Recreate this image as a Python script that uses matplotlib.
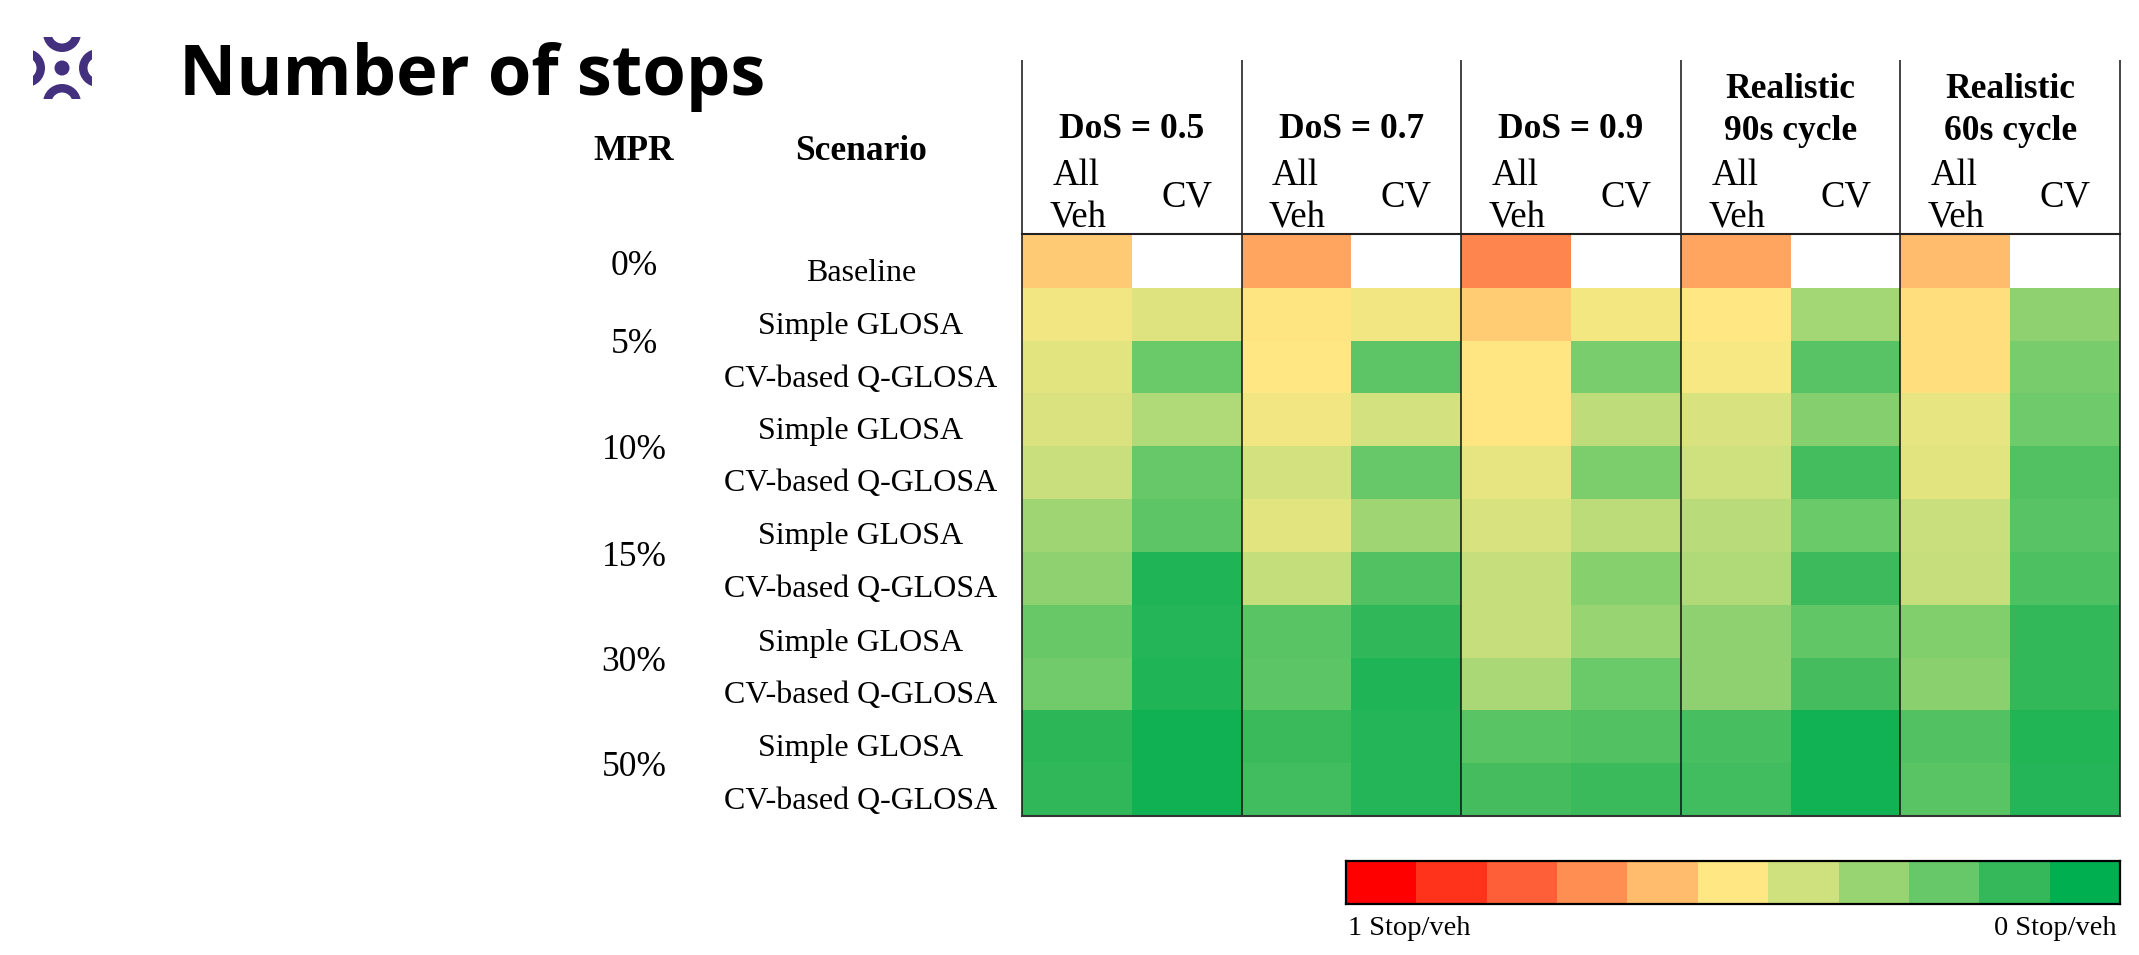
import matplotlib; matplotlib.use("Agg")
import matplotlib.pyplot as plt
import numpy as np
from matplotlib.colors import LinearSegmentedColormap
from matplotlib.patches import Circle, Rectangle, Wedge

W, H = 2139, 955
SERIF = "Liberation Serif"
PURPLE = "#43307f"

# legend steps, 1 stop/veh down to 0 stop/veh
legend_vals = [1.0, 0.9, 0.8, 0.7, 0.6, 0.5, 0.4, 0.3, 0.2, 0.1, 0.0]
legend_cols = ["#FF0000", "#FF331C", "#FF5F38", "#FF8F54", "#FFBC6C", "#FFE984",
               "#CFE07E", "#9AD472", "#66C868", "#35B85A", "#00AF50"]

groups = ["DoS = 0.5", "DoS = 0.7", "DoS = 0.9", "Realistic\n90s cycle", "Realistic\n60s cycle"]
mpr = ["0%", "5%", "10%", "15%", "30%", "50%"]
scenarios = ["Baseline"] + ["Simple GLOSA", "CV-based Q-GLOSA"] * 5

# stops per vehicle, All Veh / CV for each of the 5 groups
nan = np.nan
stops = np.array([
    [.57, nan, .65, nan, .72, nan, .65, nan, .60, nan],
    [.47, .43, .51, .47, .565, .475, .50, .32, .525, .28],
    [.44, .21, .50, .185, .505, .24, .485, .17, .525, .235],
    [.425, .34, .47, .41, .505, .37, .42, .26, .45, .215],
    [.39, .20, .41, .20, .45, .245, .40, .13, .44, .16],
    [.31, .185, .44, .31, .42, .365, .36, .21, .39, .17],
    [.28, .06, .38, .16, .385, .265, .34, .115, .385, .15],
    [.205, .07, .175, .09, .385, .30, .28, .19, .25, .095],
    [.225, .06, .18, .06, .33, .21, .28, .135, .27, .095],
    [.085, .03, .11, .07, .175, .16, .14, .035, .16, .065],
    [.09, .03, .125, .07, .135, .11, .125, .035, .175, .07],
])

cmap = LinearSegmentedColormap.from_list("stops", legend_cols[::-1])
cmap.set_bad("white")

fig = plt.figure(figsize=(W / 100, H / 100), dpi=100, facecolor="white")

def px_axes(x0, y0, x1, y1):
    return fig.add_axes([x0 / W, 1 - y1 / H, (x1 - x0) / W, (y1 - y0) / H])

# heatmap
TX0, TX1, TY0, TY1, TOP = 1022, 2120, 235, 816, 60
ax = px_axes(TX0, TY0, TX1, TY1)
ax.pcolormesh(np.ma.masked_invalid(stops), cmap=cmap, vmin=0, vmax=1)
ax.set_ylim(len(stops), 0)
ax.axis("off")

# colour legend
cax = px_axes(1346, 861, 2120, 904)
cax.pcolormesh([legend_vals], cmap=cmap, vmin=0, vmax=1)
cax.set_xticks([]); cax.set_yticks([])
for sp in cax.spines.values():
    sp.set_linewidth(1.6); sp.set_color("black")

# overlay in pixel coordinates for rules, text and logo
ov = fig.add_axes([0, 0, 1, 1], zorder=5)
ov.set_xlim(0, W); ov.set_ylim(H, 0); ov.axis("off"); ov.patch.set_alpha(0)

def label(x, y, s, size=25.5, **kw):
    kw.setdefault("ha", "center")
    ov.text(x, y + 3, s, fontsize=size, va="center", family=SERIF, color="black", **kw)

col_w = (TX1 - TX0) / 10
for i in range(6):
    ov.plot([TX0 + 2 * i * col_w] * 2, [TOP, TY1], color="#111111", lw=1.1, solid_capstyle="butt")
ov.plot([TX0, TX1], [234, 234], color="#222222", lw=1.5)
ov.plot([TX0, TX1], [816, 816], color="#333333", lw=1.5)

for i, g in enumerate(groups):
    xc = TX0 + (2 * i + 1) * col_w
    if "\n" in g:
        a, b = g.split("\n")
        label(xc, 87, a, fontweight="bold")
        label(xc, 129, b, fontweight="bold")
    else:
        label(xc, 127, g, fontweight="bold")
    label(xc - col_w + 54, 173, "All", size=26.5)
    label(xc - col_w + 56, 215, "Veh", size=26.5)
    label(xc + 55, 194, "CV", size=26.5)

label(634, 149, "MPR", fontweight="bold")
label(861, 149, "Scenario", fontweight="bold")
for y, m in zip([263, 341, 447, 554, 659, 764], mpr):
    label(634, y, m)
for y, s in zip([270, 323, 376, 428, 480, 533, 586, 640, 692, 745, 798], scenarios):
    label(861, y, s, size=23)

label(1348, 925, "1 Stop/veh", size=20.5, ha="left")
label(2117, 925, "0 Stop/veh", size=20.5, ha="right")

ov.text(179, 77, "Number of stops", fontsize=50.7, fontweight="bold", family="Open Sans",
        va="center", ha="left", color="black")

# logo
ov.add_patch(Circle((62, 68), 7.5, fc=PURPLE, ec="none"))
arcs = [((62, 33), 0, 180, (40, 37, 44, 20)), ((62, 103), 180, 360, (40, 79, 44, 20)),
        ((26, 68), 270, 450, (33, 45, 20, 46)), ((98, 68), 90, 270, (72, 45, 20, 46))]
for c, t0, t1, (rx, ry, rw, rh) in arcs:
    w = Wedge(c, 19, t0, t1, width=8.5, fc=PURPLE, ec="none")
    ov.add_patch(w)
    w.set_clip_path(Rectangle((rx, ry), rw, rh, transform=ov.transData))

fig.savefig("out.png", dpi=100)
